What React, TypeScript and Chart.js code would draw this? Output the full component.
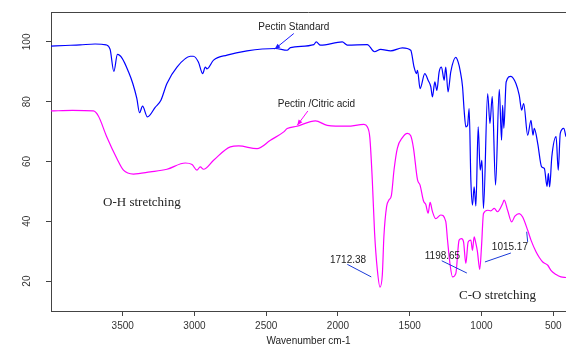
import React, { useEffect, useRef } from "react";
import { Chart, registerables } from "chart.js";

Chart.register(...registerables);

const xTicks = [500, 1000, 1500, 2000, 2500, 3000, 3500];
const yTicks = [20, 40, 60, 80, 100];

const standardWn = [4000,3902,3797,3693,3616,3588,3562,3537,3504,3460,3430,3402,3383,3362,3328,3274,3234,3192,3122,3029,3008,2973,2943,2925,2913,2867,2773,2634,2436,2354,2331,2168,2152,2122,1970,1935,1796,1745,1703,1633,1551,1493,1470,1453,1446,1428,1395,1372,1353,1342,1325,1311,1295,1279,1260,1249,1233,1214,1179,1163,1149,1132,1121,1109,1097,1086,1074,1063,1051,1039,1023,1009,997,986,957,941,925,902,876,860,853,844,828,795,760,737,720,706,678,655,641,632,608,581,562,543,534,525,510,480,465,451,427,411];
const standardT = [98.6,98.8,99.0,99.3,99.0,97.5,90.1,95.8,94.5,90.0,86.1,81.1,76.3,78.5,74.9,78.1,80.5,86.1,91.6,95.2,95.2,93.3,89.4,91.6,91.0,93.9,95.6,97.0,97.8,97.2,98.1,99.1,100.0,98.9,100.0,98.9,99.1,96.7,97.5,97.0,98.0,97.2,91.6,89.4,90.5,84.4,89.4,87.2,85.0,81.6,86.6,83.8,90.0,91.6,87.2,91.6,83.3,90.0,94.8,93.3,90.5,85.0,77.2,71.6,72.1,77.7,53.7,45.4,51.5,45.1,71.6,57.1,60.4,44.3,82.7,72.7,81.8,52.1,84.1,67.1,78.8,71.1,86.6,88.5,86.1,82.2,77.2,79.4,68.8,73.8,68.8,71.1,66.0,58.2,57.7,51.7,56.0,51.5,61.5,68.3,57.1,69.4,71.1,68.3];

const citricWn = [4000,3850,3705,3670,3611,3541,3495,3425,3309,3192,3064,3017,2983,2960,2937,2867,2750,2692,2564,2471,2378,2354,2285,2157,2075,1935,1819,1796,1778,1761,1745,1726,1707,1691,1680,1661,1645,1628,1609,1586,1551,1516,1493,1474,1446,1428,1404,1388,1372,1358,1342,1319,1284,1249,1237,1219,1202,1179,1156,1139,1125,1109,1093,1074,1063,1051,1039,1028,1012,1000,986,957,935,911,888,853,842,818,790,767,737,714,678,655,620,597,573,538,516,480,446,411];
const citricT = [76.9,77.1,76.9,75.2,68.2,61.0,57.1,55.8,56.5,57.4,59.5,59.0,57.1,58.2,57.4,60.4,64.9,65.2,64.3,67.1,69.9,71.0,71.8,73.6,72.1,71.8,72.4,71.6,68.0,53.9,36.2,23.9,18.0,22.1,35.0,45.0,47.1,48.6,57.4,64.5,68.0,69.4,68.6,64.5,53.9,52.1,46.8,45.6,42.7,46.3,43.3,40.9,42.1,40.0,33.9,25.6,21.4,22.5,33.7,34.2,33.1,25.9,33.1,33.7,30.3,34.8,32.6,29.8,23.9,31.4,42.6,43.7,43.5,44.3,43.2,45.9,47.1,43.7,39.8,41.7,42.6,41.5,37.0,33.7,29.8,27.9,26.4,25.3,23.6,22.2,21.4,21.2];

// annotation texts (data coordinates: wavenumber, transmittance)
const sansNotes = [
  { text: "Pectin Standard", wn: 2308, t: 104.8 },
  { text: "Pectin /Citric acid", wn: 2150, t: 79.1 },
  { text: "1712.38", wn: 1930, t: 27.0 },
  { text: "1198.65", wn: 1272, t: 28.3 },
  { text: "1015.17", wn: 802, t: 31.2 },
];
const serifNotes = [
  { text: "O-H stretching", wn: 3367, t: 46.3 },
  { text: "C-O stretching", wn: 888, t: 15.3 },
];
const arrows = [
  { from: [2308, 102.8], to: [2441, 97.6], color: "#1a1aff" },
  { from: [2210, 76.9], to: [2284, 72.1], color: "#ff00ff" },
];
const peakLines = [
  { from: [1935, 25.6], to: [1768, 21.4] },
  { from: [1277, 26.8], to: [1102, 22.7] },
  { from: [976, 26.4], to: [795, 29.4] },
  { from: [685, 36.5], to: [678, 33.1] },
];

const overlayPlugin = {
  id: "overlay",
  afterDraw(chart: any) {
    const { ctx, chartArea, scales } = chart;
    const x = scales.x;
    const y = scales.y;
    const px = (wn: number) => x.getPixelForValue(wn);
    const py = (t: number) => y.getPixelForValue(t);
    ctx.save();
    // top frame line
    ctx.strokeStyle = "#444";
    ctx.lineWidth = 1;
    ctx.beginPath();
    ctx.moveTo(chartArea.left, Math.round(chartArea.top) + 0.5);
    ctx.lineTo(chartArea.right, Math.round(chartArea.top) + 0.5);
    ctx.stroke();

    // rotated y tick labels
    ctx.fillStyle = "#333";
    ctx.font = '10px "Liberation Sans", Arial, sans-serif';
    ctx.textAlign = "center";
    ctx.textBaseline = "middle";
    yTicks.forEach((v) => {
      ctx.save();
      ctx.translate(27, py(v));
      ctx.rotate(-Math.PI / 2);
      ctx.fillText(String(v), 0, 0);
      ctx.restore();
    });

    // sans notes
    ctx.fillStyle = "#222";
    ctx.font = '10px "Liberation Sans", Arial, sans-serif';
    sansNotes.forEach((n) => ctx.fillText(n.text, px(n.wn), py(n.t)));

    // serif notes
    ctx.font = '13px "Liberation Serif", "Times New Roman", serif';
    serifNotes.forEach((n) => ctx.fillText(n.text, px(n.wn), py(n.t)));

    // peak marker lines
    ctx.strokeStyle = "#1a3ad8";
    ctx.lineWidth = 1;
    peakLines.forEach((l) => {
      ctx.beginPath();
      ctx.moveTo(px(l.from[0]), py(l.from[1]));
      ctx.lineTo(px(l.to[0]), py(l.to[1]));
      ctx.stroke();
    });

    // arrows
    arrows.forEach((a) => {
      const x1 = px(a.from[0]), y1 = py(a.from[1]);
      const x2 = px(a.to[0]), y2 = py(a.to[1]);
      ctx.strokeStyle = a.color;
      ctx.fillStyle = a.color;
      ctx.beginPath();
      ctx.moveTo(x1, y1);
      ctx.lineTo(x2, y2);
      ctx.stroke();
      const ang = Math.atan2(y2 - y1, x2 - x1);
      const len = 6;
      ctx.beginPath();
      ctx.moveTo(x2, y2);
      ctx.lineTo(x2 - len * Math.cos(ang - 0.4), y2 - len * Math.sin(ang - 0.4));
      ctx.lineTo(x2 - len * Math.cos(ang + 0.4), y2 - len * Math.sin(ang + 0.4));
      ctx.closePath();
      ctx.fill();
    });
    ctx.restore();
  },
};

export default function App() {
  const ref = useRef<HTMLCanvasElement | null>(null);
  useEffect(() => {
    if (!ref.current) return;
    Chart.defaults.font.family = '"Liberation Sans", Arial, sans-serif';
    const chart = new Chart(ref.current, {
      type: "line",
      data: {
        datasets: [
          {
            label: "Pectin Standard",
            data: standardWn.map((w, i) => ({ x: w, y: standardT[i] })),
            borderColor: "#0000ff",
            borderWidth: 1.2,
            pointRadius: 0,
            cubicInterpolationMode: "monotone",
          },
          {
            label: "Pectin /Citric acid",
            data: citricWn.map((w, i) => ({ x: w, y: citricT[i] })),
            borderColor: "#ff00ff",
            borderWidth: 1.2,
            pointRadius: 0,
            cubicInterpolationMode: "monotone",
          },
        ],
      },
      options: {
        animation: false,
        responsive: false,
        layout: { padding: { top: 12, right: 0, bottom: 0, left: 0 } },
        plugins: { legend: { display: false }, tooltip: { enabled: false } },
        scales: {
          x: {
            type: "linear",
            reverse: true,
            min: 411,
            max: 4000,
            afterBuildTicks: (s: any) => {
              s.ticks = xTicks.map((v) => ({ value: v }));
            },
            afterFit: (s: any) => {
              s.height = 36;
            },
            grid: { drawOnChartArea: false, drawTicks: true, tickLength: 5, color: "#444" },
            border: { display: true, color: "#444" },
            ticks: {
              font: { size: 10 },
              color: "#333",
              padding: 4,
              maxRotation: 0,
              autoSkip: false,
              callback: (v: any) => String(v),
            },
            title: {
              display: true,
              text: "Wavenumber cm-1",
              font: { size: 10 },
              color: "#222",
              padding: { top: 0, bottom: 0 },
            },
          },
          y: {
            type: "linear",
            min: 10,
            max: 110,
            afterBuildTicks: (s: any) => {
              s.ticks = yTicks.map((v) => ({ value: v }));
            },
            afterFit: (s: any) => {
              s.width = 51;
            },
            grid: { drawOnChartArea: false, drawTicks: true, tickLength: 5, color: "#444" },
            border: { display: true, color: "#444" },
            ticks: { display: false },
          },
        },
      },
      plugins: [overlayPlugin],
    } as any);
    return () => chart.destroy();
  }, []);
  return (
    <div style={{ position: "absolute", left: 0, top: 0, width: 566, height: 347, background: "#fff" }}>
      <canvas ref={ref} width={566} height={347} />
    </div>
  );
}
